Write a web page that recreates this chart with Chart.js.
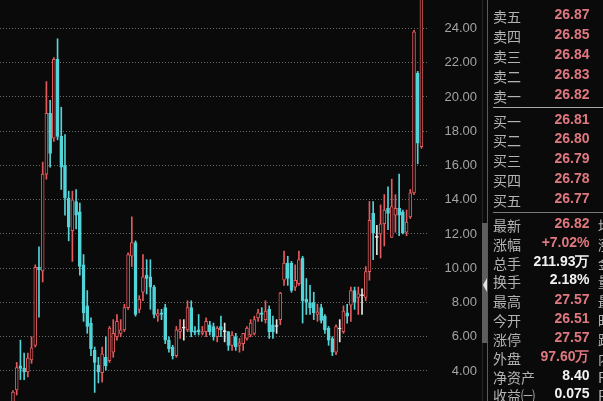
<!DOCTYPE html>
<html>
<head>
<meta charset="utf-8">
<script src="https://cdn.jsdelivr.net/npm/chart.js@4.4.0/dist/chart.umd.min.js"></script>
<style>
  html, body { margin: 0; padding: 0; background: #0a0a0a; overflow: hidden; }
  #wrap { position: relative; width: 603px; height: 401px; overflow: hidden; background: #0a0a0a; }
  #kline { position: absolute; left: 0; top: 0; }
  .row { position: absolute; left: 493px; width: 130px; height: 20px; line-height: 20px; white-space: nowrap; }
  .lab { position: absolute; left: 0; top: 0; font: 14px "Noto Sans CJK SC", sans-serif; color: #b3b3b3; }
  .val { position: absolute; left: 0; top: 0; width: 96.5px; text-align: right; font: bold 14px "Liberation Sans", Arial, sans-serif; }
  .ext { position: absolute; left: 105px; top: 0; font: 14px "Noto Sans CJK SC", sans-serif; color: #b3b3b3; }
  .hline { position: absolute; left: 493px; width: 110px; height: 1px; }
  .vline { position: absolute; top: 0; width: 1px; height: 401px; }
</style>
</head>
<body>
<div id="wrap">
  <canvas id="kline" width="603" height="401"></canvas>
  <div class="vline" style="left:482px;background:#262626"></div>
  <div class="vline" style="left:487px;background:#5a5a5a"></div>
  <div style="position:absolute;left:482px;top:223px;width:5px;height:120px;background:#5e5e5e"></div>
  <div style="position:absolute;left:483px;top:278px;width:0;height:0;border-top:7px solid transparent;border-bottom:7px solid transparent;border-right:4px solid #e4e4e4"></div>
  <div class="hline" style="top:107px;background:#a8a8a8"></div>
  <div class="hline" style="top:212px;background:#7a7a7a"></div>
  <div id="panel"></div>
</div>
<script>
// price grid labels
const yTicks = [4, 6, 8, 10, 12, 14, 16, 18, 20, 22, 24];

// candles, one slot per bar (first slots are below the visible range)
const opens = [null, null, null,
  2.1, 2.9, 4.3, 4.15, 3.95, 4.65, 5.5, 10.05, 9.85, 15.5,
  19.05, 17.6, 22.2, 17.7, 16.0, 14.1, 12.2, 13.9, 13.3, 10.2,
  7.8, 6.8, 5.2, 4.35, 3.9, 4.8, 4.6, 5.1, 6.0, 6.2,
  6.4, 7.7, 10.7, 11.5, 7.6, 8.6, 9.6, 9.5, 8.9, 7.2,
  7.4, 7.7, 5.8, 5.4, 4.9, 6.3, 6.5, 6.4, 7.7, 6.35,
  6.4, 6.2, 6.3, 6.7, 6.6, 6.0, 6.6, 6.3, 6.3, 5.5,
  6.0, 5.5, 5.6, 5.9, 6.1, 6.2, 7.1, 7.4, 7.0, 7.6,
  6.7, 6.6, 7.0, 9.3, 10.3, 10.3, 8.9, 9.1, 10.6, 8.2,
  8.0, 8.0, 7.3, 7.7, 7.2, 6.5, 5.9, 5.1, 6.45, 6.3,
  7.4, 7.85, 8.7, 8.3, 8.4, 8.3, 9.8, 13.2, 11.8, 12.0,
  12.6, 13.5, 11.8, 13.1, 13.5, 13.3, 12.1, 13.0, 14.4, 21.4,
  17.1, null];
const highs = [null, null, null,
  2.85, 4.5, 5.8, 5.05, 5.05, 6.0, 10.2, 11.25, 16.2, 20.9,
  19.8, 22.3, 23.4, 19.4, 17.8, 14.5, 14.5, 14.6, 13.8, 10.8,
  8.7, 7.1, 5.4, 4.8, 5.4, 6.0, 6.6, 7.0, 7.3, 7.0,
  7.9, 10.9, 13.0, 11.6, 8.4, 10.8, 10.5, 10.5, 9.0, 7.6,
  7.6, 7.9, 6.0, 5.5, 6.6, 7.0, 7.0, 8.1, 8.1, 6.6,
  7.3, 6.6, 7.1, 6.9, 6.8, 6.6, 7.2, 6.8, 6.3, 6.3,
  6.2, 5.9, 6.2, 6.6, 7.0, 7.2, 7.6, 7.7, 8.1, 7.8,
  7.2, 7.0, 8.6, 11.0, 10.7, 10.4, 10.2, 11.0, 10.7, 9.4,
  9.0, 8.6, 7.9, 7.9, 7.3, 6.6, 6.0, 6.7, 7.0, 7.8,
  7.9, 8.9, 8.9, 8.9, 8.8, 10.1, 13.9, 13.9, 12.5, 13.7,
  14.3, 14.75, 15.2, 14.3, 15.5, 13.4, 13.4, 14.6, 23.9, 21.5,
  27.57, null];
const lows = [null, null, null,
  2.0, 2.6, 3.5, 3.5, 3.65, 4.45, 5.4, 7.15, 9.2, 15.2,
  15.9, 17.4, 17.5, 14.6, 13.1, 11.6, 10.4, 12.3, 9.6, 6.9,
  6.2, 4.9, 2.75, 3.3, 3.35, 4.05, 4.5, 4.8, 5.8, 6.0,
  6.3, 7.6, 10.1, 7.2, 7.4, 8.1, 8.5, 7.6, 7.1, 6.9,
  7.0, 5.6, 5.1, 4.7, 4.8, 5.9, 5.8, 6.3, 6.0, 6.1,
  6.1, 6.1, 6.0, 6.1, 5.8, 5.7, 6.0, 5.7, 5.2, 5.2,
  5.2, 5.1, 5.2, 5.8, 6.0, 6.1, 6.9, 6.9, 6.8, 5.9,
  5.9, 6.2, 6.7, 9.0, 9.0, 8.6, 8.7, 9.0, 6.8, 7.3,
  7.3, 7.0, 6.9, 6.8, 6.2, 5.5, 4.9, 4.95, 5.7, 6.2,
  6.8, 6.9, 7.6, 7.3, 7.3, 8.1, 9.3, 10.5, 10.8, 10.6,
  11.3, 12.25, 11.8, 12.1, 11.9, 12.0, 11.9, 12.9, 14.3, 16.1,
  17.0, null];
const closes = [null, null, null,
  2.77, 4.2, 4.15, 3.95, 4.75, 5.35, 10.05, 9.9, 15.5, 19.05,
  16.7, 22.2, 17.7, 15.9, 14.1, 12.4, 14.0, 13.1, 10.1, 7.4,
  6.6, 5.3, 4.5, 3.95, 5.0, 4.3, 6.5, 6.2, 6.9, 6.4,
  7.7, 10.8, 11.5, 7.3, 8.2, 9.5, 9.4, 8.9, 7.3, 7.35,
  7.3, 5.8, 5.3, 4.9, 6.4, 6.45, 6.5, 7.7, 6.3, 6.25,
  6.3, 6.3, 6.9, 6.3, 6.0, 6.5, 6.4, 6.3, 5.5, 6.1,
  5.4, 5.65, 6.2, 6.5, 6.8, 7.0, 7.4, 7.3, 7.5, 6.3,
  6.3, 6.6, 8.55, 10.3, 9.4, 8.7, 9.3, 10.5, 8.1, 8.0,
  7.7, 7.4, 7.45, 6.95, 6.4, 5.8, 5.1, 6.6, 6.45, 7.5,
  7.2, 8.7, 8.0, 8.5, 8.4, 9.8, 12.8, 12.05, 11.8, 12.6,
  13.4, 13.2, 13.6, 13.5, 13.1, 12.05, 12.7, 14.4, 23.8, 17.3,
  26.82, null];
const slots = opens.map((_, i) => String(i));

// order book and quote panel
const askLabels = ['卖五', '卖四', '卖三', '卖二', '卖一'];
const askPrices = ['26.87', '26.85', '26.84', '26.83', '26.82'];
const bidLabels = ['买一', '买二', '买三', '买四', '买五'];
const bidPrices = ['26.81', '26.80', '26.79', '26.78', '26.77'];
const quoteLabels = ['最新', '涨幅', '总手', '换手', '最高', '今开', '涨停', '外盘', '净资产', '收益㈠'];
const quoteValues = ['26.82', '+7.02%', '211.93万', '2.18%', '27.57', '26.51', '27.57', '97.60万', '8.40', '0.075'];
const quoteIsRed = [true, true, false, false, true, true, true, true, false, false];
const quoteExtra = ['均价', '涨跌', '金额', '量比', '最低', '昨收', '跌停', '内盘', 'ROE', 'PE'];

const RED = '#e35b5e', CYAN = '#52d4d8', DOJI = '#e6e6e6', BG = '#0a0a0a';
const PINK = '#e07880', WHITE = '#f2f2f2';

function candleColor(i) {
  const o = opens[i], c = closes[i];
  if (o === c) return DOJI;
  return c > o ? RED : CYAN;
}

new Chart(document.getElementById('kline'), {
  type: 'bar',
  data: {
    labels: slots,
    datasets: [
      {
        label: 'body',
        data: opens.map((o, i) => o == null ? null : [o, closes[i]]),
        order: 0,
        grouped: false,
        barThickness: 3,
        minBarLength: 1,
        backgroundColor: ctx => closes[ctx.dataIndex] > opens[ctx.dataIndex] ? BG : candleColor(ctx.dataIndex),
        borderColor: ctx => candleColor(ctx.dataIndex),
        borderWidth: 1,
        borderSkipped: false
      },
      {
        label: 'wick',
        data: lows.map((l, i) => l == null ? null : [l, highs[i]]),
        order: 1,
        grouped: false,
        barThickness: 1,
        backgroundColor: ctx => candleColor(ctx.dataIndex),
        borderWidth: 0
      }
    ]
  },
  options: {
    responsive: false,
    animation: false,
    layout: { padding: { left: 0, top: 0, bottom: 0, right: 126 } },
    plugins: { legend: { display: false }, tooltip: { enabled: false } },
    scales: {
      x: { display: false, offset: true },
      y: {
        position: 'right',
        min: 2.248,
        max: 25.664,
        afterBuildTicks: s => { s.ticks = yTicks.map(v => ({ value: v })); },
        afterFit: s => { s.width = 50; s.paddingTop = 0; s.paddingBottom = 0; },
        grid: { color: '#6a6a6a', lineWidth: 1, drawTicks: false },
        border: { display: false, dash: [1, 2] },
        ticks: {
          color: '#a3a3a3',
          font: { family: '"Liberation Sans", Arial, sans-serif', size: 13 },
          crossAlign: 'far',
          padding: 0,
          callback: v => Number(v).toFixed(2)
        }
      }
    }
  }
});

// side panel
const panel = document.getElementById('panel');
function addRow(center, label, value, color, extra) {
  const row = document.createElement('div');
  row.className = 'row';
  row.style.top = (center - 10) + 'px';
  row.innerHTML = `<span class="lab">${label}</span><span class="val" style="color:${color}">${value}</span>` +
    (extra ? `<span class="ext">${extra}</span>` : '');
  panel.append(row);
}
const askY = [16, 36, 56, 76, 96];
const bidY = [120.5, 140, 160, 180, 200];
const quoteY = [225, 243.5, 262.5, 281, 301, 320, 338.5, 357.5, 376.5, 395];
askLabels.forEach((l, i) => addRow(askY[i], l, askPrices[i], PINK));
bidLabels.forEach((l, i) => addRow(bidY[i], l, bidPrices[i], PINK));
quoteLabels.forEach((l, i) => addRow(quoteY[i], l, quoteValues[i], quoteIsRed[i] ? PINK : WHITE, quoteExtra[i]));
</script>
</body>
</html>
